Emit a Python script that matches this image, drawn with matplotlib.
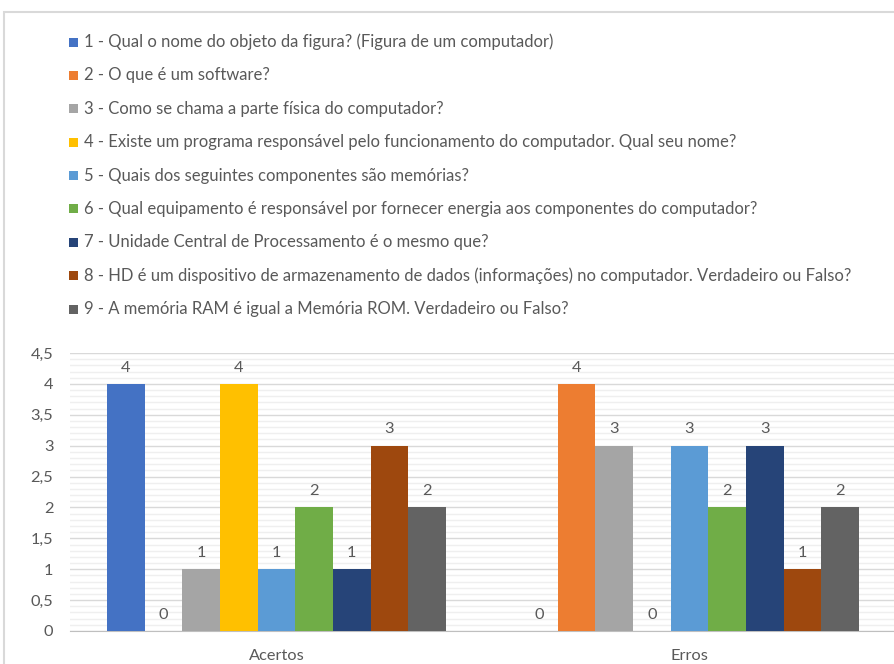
import numpy as np
import matplotlib.pyplot as plt
from matplotlib.patches import Rectangle
from matplotlib.ticker import MultipleLocator

plt.rcParams['font.family'] = ['Lato', 'DejaVu Sans']

categories = ['Acertos', 'Erros']
questions = [
    '1 - Qual o nome do objeto da figura? (Figura de um computador)',
    '2 - O que é um software?',
    '3 - Como se chama a parte física do computador?',
    '4 - Existe um programa responsável pelo funcionamento do computador. Qual seu nome?',
    '5 - Quais dos seguintes componentes são memórias?',
    '6 - Qual equipamento é responsável por fornecer energia aos componentes do computador?',
    '7 - Unidade Central de Processamento é o mesmo que?',
    '8 - HD é um dispositivo de armazenamento de dados (informações) no computador. Verdadeiro ou Falso?',
    '9 - A memória RAM é igual a Memória ROM. Verdadeiro ou Falso?',
]
acertos = [4, 0, 1, 4, 1, 2, 1, 3, 2]
erros = [0, 4, 3, 0, 3, 2, 3, 1, 2]
colors = ['#4472C4', '#ED7D31', '#A5A5A5', '#FFC000', '#5B9BD5',
          '#70AD47', '#264478', '#9E480E', '#636363']

text_color = '#595959'
W, H = 895, 664
fs = 11.8

fig = plt.figure(figsize=(W / 100, H / 100), dpi=100)

# chart area border
fig.patches.append(Rectangle((4 / W, -0.1), 1.1, (H - 12) / H + 0.1,
                             transform=fig.transFigure, fill=False,
                             edgecolor='#D9D9D9', linewidth=1.5))

ax = fig.add_axes([70 / W, 33 / H, (896 - 70) / W, (631 - 353) / H])

n = len(questions)
group_w = 0.82
bw = group_w / n
x = np.arange(len(categories))
for i in range(n):
    vals = [acertos[i], erros[i]]
    pos = x - group_w / 2 + bw * (i + 0.5)
    bars = ax.bar(pos, vals, width=bw, color=colors[i], zorder=3)
    for b, v in zip(bars, vals):
        ax.text(b.get_x() + b.get_width() / 2, v + 0.15, str(v),
                ha='center', va='bottom', fontsize=fs, color=text_color)

ax.set_xlim(-0.5, 1.5)
ax.set_ylim(0, 4.5)
ax.yaxis.set_major_locator(MultipleLocator(0.5))
ax.yaxis.set_minor_locator(MultipleLocator(0.1))
ax.grid(which='major', axis='y', color='#D9D9D9', linewidth=1, zorder=0)
ax.grid(which='minor', axis='y', color='#EFEFEF', linewidth=1, zorder=0)
yt = np.arange(0, 4.51, 0.5)
ax.set_yticks(yt)
ax.set_yticklabels([('%g' % t).replace('.', ',') for t in yt])
ax.set_xticks(x)
ax.set_xticklabels(categories)
ax.tick_params(axis='both', which='both', length=0, labelsize=fs,
               colors=text_color)
ax.tick_params(axis='y', pad=12)
ax.tick_params(axis='x', pad=13)
for s in ['top', 'right', 'left']:
    ax.spines[s].set_visible(False)
ax.spines['bottom'].set_color('#BFBFBF')

# legend, one question per row
for i, q in enumerate(questions):
    yc = 1 - (42 + 33.4 * i) / H
    fig.patches.append(Rectangle((69 / W, yc - 4.5 / H), 9 / W, 9 / H,
                                 transform=fig.transFigure,
                                 facecolor=colors[i], edgecolor='none'))
    fig.text(84 / W, yc, q, ha='left', va='center', fontsize=12,
             color=text_color)

fig.savefig('out.png', dpi=100)
